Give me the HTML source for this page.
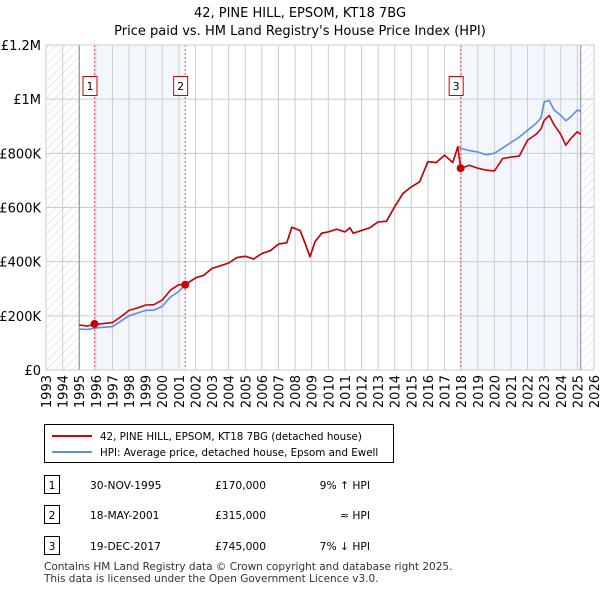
<!DOCTYPE html>
<html><head><meta charset="utf-8">
<style>
body{margin:0;background:#fff;font-family:"Liberation Sans","DejaVu Sans",sans-serif;}
svg text{font-family:"DejaVu Sans","Liberation Sans",sans-serif;}
</style></head>
<body>
<svg id="c" width="600" height="590" viewBox="0 0 600 590" xmlns="http://www.w3.org/2000/svg">
<defs>
<pattern id="hatch" patternUnits="userSpaceOnUse" width="6" height="6" patternTransform="rotate(45)">
<line x1="0" y1="0" x2="0" y2="6" stroke="#d4d4d4" stroke-width="1"/>
</pattern>
</defs>
<text x="300" y="17" text-anchor="middle" font-size="13">42, PINE HILL, EPSOM, KT18 7BG</text>
<text x="300" y="35" text-anchor="middle" font-size="13">Price paid vs. HM Land Registry's House Price Index (HPI)</text>
<g id="plot"></g>
<g>
<rect x="44.5" y="424.5" width="349" height="38" fill="#fff" stroke="#000"/>
<line x1="52" y1="436" x2="92" y2="436" stroke="#cc0000" stroke-width="2"/>
<text x="100" y="440" font-size="10.3">42, PINE HILL, EPSOM, KT18 7BG (detached house)</text>
<line x1="52" y1="452" x2="92" y2="452" stroke="#5b8fd6" stroke-width="2"/>
<text x="100" y="456" font-size="10.3">HPI: Average price, detached house, Epsom and Ewell</text>
</g>
<g font-size="10.7">
<rect x="44.5" y="475.5" width="15" height="18" fill="#fff" stroke="#000"/>
<text x="52" y="489" text-anchor="middle">1</text>
<text x="90" y="489">30-NOV-1995</text>
<text x="215" y="489">£170,000</text>
<text x="370" y="489" text-anchor="end">9% ↑ HPI</text>
<rect x="44.5" y="505.5" width="15" height="18" fill="#fff" stroke="#000"/>
<text x="52" y="519" text-anchor="middle">2</text>
<text x="90" y="519">18-MAY-2001</text>
<text x="215" y="519">£315,000</text>
<text x="370" y="519" text-anchor="end">≈ HPI</text>
<rect x="44.5" y="536.5" width="15" height="18" fill="#fff" stroke="#000"/>
<text x="52" y="550" text-anchor="middle">3</text>
<text x="90" y="550">19-DEC-2017</text>
<text x="215" y="550">£745,000</text>
<text x="370" y="550" text-anchor="end">7% ↓ HPI</text>
</g>
<text x="44" y="570" font-size="10.5" fill="#333">Contains HM Land Registry data © Crown copyright and database right 2025.</text>
<text x="44" y="582" font-size="10.5" fill="#333">This data is licensed under the Open Government Licence v3.0.</text>
</svg>
<script>
const hpiYears=[1995.0,1995.5,1996.0,1996.5,1997.0,1997.5,1998.0,1998.5,1999.0,1999.5,2000.0,2000.5,2001.0,2001.4,2002.0,2002.5,2003.0,2003.5,2004.0,2004.5,2005.0,2005.5,2006.0,2006.5,2007.0,2007.5,2007.8,2008.3,2008.6,2008.9,2009.2,2009.6,2010.0,2010.5,2011.0,2011.3,2011.5,2012.0,2012.5,2013.0,2013.5,2014.0,2014.5,2015.0,2015.5,2016.0,2016.5,2017.0,2017.5,2017.8,2018.0,2018.5,2019.0,2019.5,2020.0,2020.5,2021.0,2021.5,2022.0,2022.5,2022.8,2023.0,2023.3,2023.6,2024.0,2024.3,2024.6,2025.0,2025.2];
const hpiValues=[151,150,155,158,160,180,200,210,220,221,235,270,290,315,340,350,375,385,395,415,420,410,430,440,465,470,527,515,468,418,474,505,510,520,510,525,505,515,525,547,549,603,652,676,695,769,766,793,766,824,818,810,805,795,800,820,840,860,885,910,930,990,995,960,940,920,935,960,955];
const priceYears=[1995.0,1995.5,1995.92,1996.0,1996.5,1997.0,1997.5,1998.0,1998.5,1999.0,1999.5,2000.0,2000.5,2001.0,2001.38,2002.0,2002.5,2003.0,2003.5,2004.0,2004.5,2005.0,2005.5,2006.0,2006.5,2007.0,2007.5,2007.8,2008.3,2008.6,2008.9,2009.2,2009.6,2010.0,2010.5,2011.0,2011.3,2011.5,2012.0,2012.5,2013.0,2013.5,2014.0,2014.5,2015.0,2015.5,2016.0,2016.5,2017.0,2017.5,2017.8,2017.97,2018.5,2019.0,2019.5,2020.0,2020.5,2021.0,2021.5,2022.0,2022.5,2022.8,2023.0,2023.3,2023.6,2024.0,2024.3,2024.6,2025.0,2025.2];
const priceValues=[166,162,170,168,172,175,196,220,229,240,241,258,295,315,315,340,350,375,385,395,415,420,410,430,440,465,470,527,515,468,418,474,505,510,520,510,525,505,515,525,547,549,603,652,676,695,769,766,793,766,824,745,756,745,738,735,781,786,790,849,870,890,922,940,905,870,830,855,880,870];
const sales=[{n:"1",yr:1995.92,v:170},{n:"2",yr:2001.38,v:315},{n:"3",yr:2017.97,v:745}];
const yTicks=[0,200,400,600,800,1000,1200];
const yTickLabels=["£0","£200K","£400K","£600K","£800K","£1M","£1.2M"];
const xYears=[1993,1994,1995,1996,1997,1998,1999,2000,2001,2002,2003,2004,2005,2006,2007,2008,2009,2010,2011,2012,2013,2014,2015,2016,2017,2018,2019,2020,2021,2022,2023,2024,2025,2026];

const NS="http://www.w3.org/2000/svg";
const L=46,R=594,T=45,B=370;
const X=y=>L+(y-1993)*(R-L)/33;
const Y=v=>B-v*(B-T)/1200;
const g=document.getElementById('plot');
function mk(tag,attrs,name,parent){const e=document.createElementNS(NS,tag);for(const k in attrs)e.setAttribute(k,attrs[k]);


(parent||g).appendChild(e);return e;}
mk('rect',{x:X(1995.92),y:T,width:X(2001.38)-X(1995.92),height:B-T,fill:'#eef3fc',opacity:0.7},'shade-period-1');
mk('rect',{x:X(2017.97),y:T,width:X(2025.2)-X(2017.97),height:B-T,fill:'#eef3fc',opacity:0.7},'shade-period-3');
mk('rect',{x:L,y:T,width:X(1995)-L,height:B-T,fill:'url(#hatch)'},'hatch-before-data');
mk('rect',{x:X(2025.2),y:T,width:R-X(2025.2),height:B-T,fill:'url(#hatch)'},'hatch-after-data');
yTicks.forEach((t,i)=>{
 mk('line',{x1:L,x2:R,y1:Y(t),y2:Y(t),stroke:'#ccc'},'y-gridline');
 const tx=mk('text',{x:L-5,y:Y(t)+5,'text-anchor':'end','font-size':13},'y-tick-label');tx.textContent=yTickLabels[i];
});
xYears.forEach(yr=>{
 mk('line',{x1:X(yr),x2:X(yr),y1:T,y2:B,stroke:'#ccc'},'x-gridline');
 const tx=mk('text',{x:0,y:0,'text-anchor':'end','font-size':13,transform:`translate(${X(yr)+5},${B+5}) rotate(-90)`},'x-tick-label');tx.textContent=yr;
});
mk('line',{x1:X(1995),x2:X(1995),y1:T,y2:B,stroke:'#888'},'data-start-line');
mk('line',{x1:X(2025.2),x2:X(2025.2),y1:T,y2:B,stroke:'#888'},'data-end-line');
sales.forEach(s=>{
 mk('line',{x1:X(s.yr),x2:X(s.yr),y1:T,y2:B,stroke:'#e55','stroke-dasharray':'2,2'},'sale-marker-line');
 mk('rect',{x:X(s.yr)-11.5,y:76.5,width:14,height:19,fill:'#fff',stroke:'#cc0000'},'sale-badge');
 const t=mk('text',{x:X(s.yr)-4.5,y:90,'text-anchor':'middle','font-size':11},'sale-badge-label');t.textContent=s.n;
});
function path(xs,vs,color,name){
 const d=xs.map((x,i)=>(i?'L':'M')+X(x).toFixed(1)+','+Y(vs[i]).toFixed(1)).join('');
 mk('path',{d:d,fill:'none',stroke:color,'stroke-width':1.6,'stroke-linejoin':'round'},name);
}
path(hpiYears,hpiValues,'#5b8fd6','hpi-line');
path(priceYears,priceValues,'#cc0000','price-paid-line');
sales.forEach(s=>{
 mk('circle',{cx:X(s.yr),cy:Y(s.v),r:4,fill:'#cc0000'},'sale-point');
});
mk('rect',{x:L,y:T,width:R-L,height:B-T,fill:'none',stroke:'#ccc'},'plot-border');
</script>
</body></html>
